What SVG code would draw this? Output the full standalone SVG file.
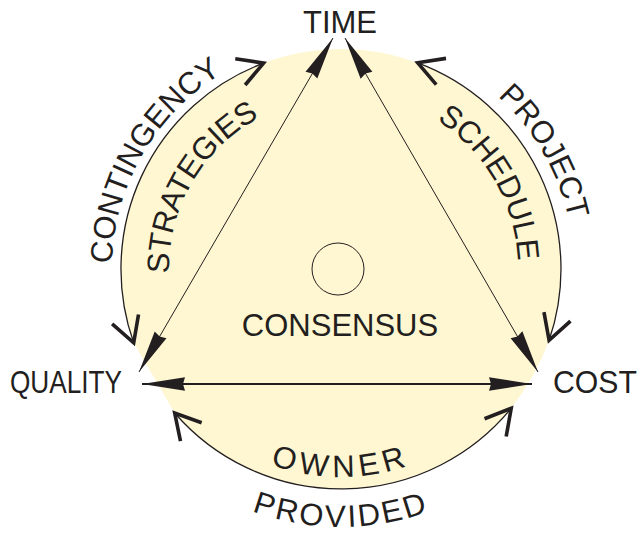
<svg xmlns="http://www.w3.org/2000/svg" width="641" height="535" viewBox="0 0 641 535">
<style>
.t{font-family:"Liberation Sans",Arial,sans-serif;font-size:31px;fill:#231f20}
.arc{fill:none;stroke:#231f20;stroke-width:1.3;marker-start:url(#chev);marker-end:url(#chev)}
.ln{fill:none;stroke:#231f20;marker-start:url(#tri);marker-end:url(#tri)}
</style>
<defs>
<marker id="chev" markerUnits="userSpaceOnUse" orient="auto-start-reverse" overflow="visible" markerWidth="1" markerHeight="1">
<path d="M-25,-14 L0,0 L-25,14" fill="none" stroke="#231f20" stroke-width="3.6" stroke-linejoin="miter" stroke-miterlimit="10"/>
</marker>
<marker id="tri" markerUnits="userSpaceOnUse" orient="auto-start-reverse" overflow="visible" markerWidth="1" markerHeight="1">
<path d="M0,0 L-43,-6.8 L-41,0 L-43,6.8 Z" fill="#231f20"/>
</marker>
<path id="pCont" d="M142.7,383.5 A229,229 0 0,1 341,40"/>
<path id="pStrat" d="M192,355 A172,172 0 0,1 341,97"/>
<path id="pProj" d="M341,36 A233,233 0 0,1 542.8,385.5"/>
<path id="pSched" d="M341,92 A177,177 0 0,1 494.3,357.5"/>
<path id="pOwner" d="M160.9,373 A208,208 0 0,0 521.1,373"/>
<path id="pProv" d="M117.6,398 A258,258 0 0,0 564.4,398"/>
</defs>

<path id="bg" d="M133.7,342.8 A220,220 0 1,1 549.1,340.3 Q536,376 511.2,408.3 A220,220 0 0,1 174.7,413 Z" fill="#fff7d1"/>

<g id="connectors">
<path class="arc" d="M133.7,342.8 A220,220 0 0,1 263.6,63.1"/>
<path class="arc" d="M417.7,62.8 A220,220 0 0,1 549.1,340.3"/>
<path class="arc" d="M511.2,408.3 A220,220 0 0,1 174.7,413"/>
<line class="ln" x1="333" y1="38" x2="139" y2="372" stroke-width="1"/>
<line class="ln" x1="345" y1="38" x2="538" y2="372" stroke-width="1"/>
<line class="ln" x1="142" y1="384" x2="532" y2="384" stroke-width="2"/>
</g>

<g id="time"><text class="t" x="340" y="33" text-anchor="middle">TIME</text></g>
<g id="quality"><text class="t" x="10" y="393" textLength="112" lengthAdjust="spacingAndGlyphs">QUALITY</text></g>
<g id="cost"><text class="t" x="553" y="393" textLength="84" lengthAdjust="spacingAndGlyphs">COST</text></g>
<g id="consensus">
<circle cx="338" cy="269" r="26" fill="none" stroke="#231f20" stroke-width="1"/>
<text class="t" x="340" y="336" text-anchor="middle">CONSENSUS</text>
</g>

<g id="labels">
<text class="t"><textPath href="#pCont" startOffset="50%" text-anchor="middle">CONTINGENCY</textPath></text>
<text class="t" letter-spacing="-0.5"><textPath href="#pStrat" startOffset="50%" text-anchor="middle">STRATEGIES</textPath></text>
<text class="t"><textPath href="#pProj" startOffset="50%" text-anchor="middle">PROJECT</textPath></text>
<text class="t"><textPath href="#pSched" startOffset="50%" text-anchor="middle">SCHEDULE</textPath></text>
<text class="t" letter-spacing="5"><textPath href="#pOwner" startOffset="50%" text-anchor="middle">OWNER</textPath></text>
<text class="t" letter-spacing="2.5"><textPath href="#pProv" startOffset="50%" text-anchor="middle">PROVIDED</textPath></text>
</g>
</svg>
